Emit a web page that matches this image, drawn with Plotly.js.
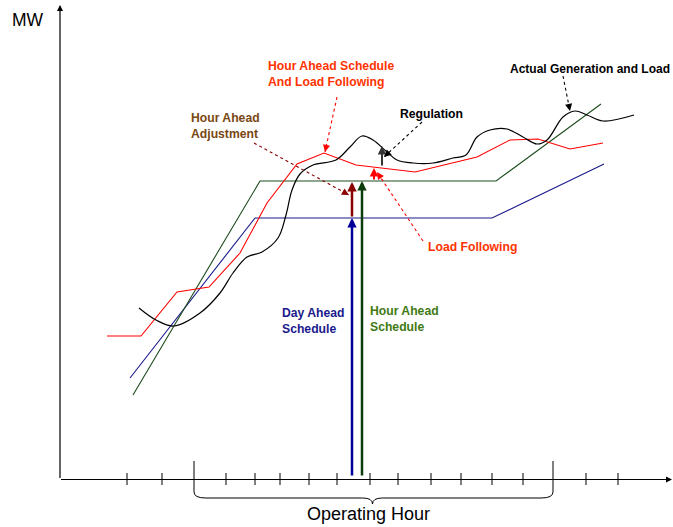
<!DOCTYPE html>
<html><head><meta charset="utf-8">
<script src="https://cdn.plot.ly/plotly-3.0.1.min.js"></script>
<style>html,body{margin:0;padding:0;background:#fff}#c{width:673px;height:527px}</style>
</head><body><div id="c"></div>
<script>
// Values (horizontal = time position, vertical = MW position, top = high)
const dayAheadX = [130, 255, 492, 604];
const dayAheadY = [378, 218, 218, 164];
const hourAheadX = [133, 260, 496, 601];
const hourAheadY = [395, 181, 181, 104];
const loadFollowX = [107, 141, 177, 209, 240, 267, 297, 324, 356, 415, 477, 510, 538, 570, 603];
const loadFollowY = [336, 336, 292, 287, 253, 203, 164, 153, 165, 172, 157, 140, 139, 149, 143];
const actualX = [139, 156, 174, 200, 220, 233, 247, 262, 278, 286, 292, 300, 313, 336, 350, 362, 373, 387, 397, 413, 433, 453, 466, 477, 490, 507, 523, 537, 547, 563, 575, 587, 603, 634];
const actualY = [308, 320, 326, 313, 293, 273, 257, 252, 238, 215, 190, 174, 165, 160, 147, 136, 140, 152, 160, 163, 163, 158, 155, 137, 130, 129, 137, 144, 140, 117, 111, 115, 121, 115];
const tickX = [127, 162, 226, 255, 280, 309, 337, 370, 398, 431, 461, 492, 523, 586, 618];
const hourBounds = [194, 553];
const arrowX = {dayAhead: 352, adjustment: 352, hourAhead: 362, loadFollowing: 374, regulation: 382};
const arrowBase = {dayAhead: 477, adjustment: 218, hourAhead: 477, loadFollowing: 181, regulation: 167};
const arrowTip = {dayAhead: 218, adjustment: 182, hourAhead: 181, loadFollowing: 168, regulation: 146};
const labels = {
  haLF: "Hour Ahead Schedule<br>And Load Following",
  adj: "Hour Ahead<br>Adjustment",
  reg: "Regulation",
  agl: "Actual Generation and Load",
  lf: "Load Following",
  da: "Day Ahead<br>Schedule",
  ha: "Hour Ahead<br>Schedule",
  xTitle: "Operating Hour",
  yTitle: "MW"
};
// dashed pointer lines [x0,y0,x1,y1]
const pointerHALF = [337, 97, 325, 152];
const pointerAdj = [254, 143, 349, 195];
const pointerReg = [422, 122, 384, 157];
const pointerLF = [423, 241, 377, 172];
const pointerAGL = [563, 76, 570, 111];

const F = "Liberation Sans, Arial, sans-serif";
const RED = "#ff0000", REDTXT = "#ff3300", NAVY = "#1a1a8c", DKGREEN = "#1e4d1e", BROWN = "#7a4712", DKRED = "#8b0000";

const traces = [];
traces.push({x: dayAheadX, y: dayAheadY, mode: "lines", line: {color: NAVY, width: 1.1}, hoverinfo: "skip"});
traces.push({x: hourAheadX, y: hourAheadY, mode: "lines", line: {color: DKGREEN, width: 1.1}, hoverinfo: "skip"});
traces.push({x: loadFollowX, y: loadFollowY, mode: "lines", line: {color: RED, width: 1.1}, hoverinfo: "skip"});
traces.push({x: actualX, y: actualY, mode: "lines", line: {color: "#000", width: 1.2, shape: "spline", smoothing: 1}, hoverinfo: "skip"});
// ticks
const tx = [], ty = [];
tickX.forEach(v => { tx.push(v, v, null); ty.push(473, 485, null); });
hourBounds.forEach(v => { tx.push(v, v, null); ty.push(461, 479, null); });
traces.push({x: tx, y: ty, mode: "lines", line: {color: "#000", width: 1}, hoverinfo: "skip"});
function dashed(p, color) {
  traces.push({x: [p[0], p[2]], y: [p[1], p[3]], mode: "lines", line: {color: color, width: 1.1, dash: "3px,3px"}, hoverinfo: "skip"});
}
dashed(pointerHALF, RED);
dashed(pointerAdj, DKRED);
dashed(pointerReg, "#000");
dashed(pointerLF, RED);
dashed(pointerAGL, "#000");

const ann = [];
function arrow(x, y, ax, ay, color, w, head, size) {
  ann.push({x: x, y: y, ax: ax, ay: ay, xref: "x", yref: "y", axref: "x", ayref: "y", text: "", showarrow: true,
    arrowhead: head, arrowsize: size, arrowwidth: w, arrowcolor: color});
}
// axes
arrow(60, 5, 60, 479.5, "#000", 1.2, 2, 1);
arrow(672, 479.5, 59.5, 479.5, "#000", 1.2, 2, 1);
// vertical arrows
arrow(arrowX.dayAhead, arrowTip.dayAhead, arrowX.dayAhead, arrowBase.dayAhead, "#000099", 2.5, 2, 0.75);
arrow(arrowX.adjustment, arrowTip.adjustment, arrowX.adjustment, arrowBase.adjustment, DKRED, 2.5, 2, 0.75);
arrow(arrowX.hourAhead, arrowTip.hourAhead, arrowX.hourAhead, arrowBase.hourAhead, "#0b3d0b", 2.5, 2, 0.75);
arrow(arrowX.loadFollowing, arrowTip.loadFollowing, arrowX.loadFollowing, arrowBase.loadFollowing, RED, 2, 2, 0.85);
arrow(arrowX.regulation, arrowTip.regulation, arrowX.regulation, arrowBase.regulation, "#333", 2, 2, 0.85);
// pointer heads
function head(p, color) {
  const dx = p[2] - p[0], dy = p[3] - p[1], L = Math.hypot(dx, dy);
  arrow(p[2], p[3], p[2] - dx / L * 7, p[3] - dy / L * 7, color, 1.1, 2, 1.3);
}
head(pointerHALF, RED); head(pointerAdj, DKRED); head(pointerReg, "#000"); head(pointerLF, RED); head(pointerAGL, "#000");

function txt(x, y, s, color, size, bold, anchor) {
  ann.push({x: x, y: y, xref: "x", yref: "y", text: bold ? "<b>" + s + "</b>" : s, showarrow: false,
    xanchor: anchor || "left", yanchor: "middle", align: "left", font: {family: F, size: size, color: color}});
}
txt(266, 74, labels.haLF, REDTXT, 12.2, true);
txt(189, 125.5, labels.adj, BROWN, 12.2, true);
txt(398, 114, labels.reg, "#000", 12.2, true);
txt(672, 69, labels.agl, "#000", 12, true, "right");
txt(426, 246.5, labels.lf, REDTXT, 12.2, true);
txt(280, 321, labels.da, NAVY, 12.2, true);
txt(368, 319, labels.ha, "#3f7a14", 12.2, true);
txt(368, 514, labels.xTitle, "#000", 18, false, "center");
txt(10, 20, labels.yTitle, "#000", 17.5, false);

// brace for operating hour
const b0 = hourBounds[0], b1 = hourBounds[1], bm = (b0 + b1) / 2 - 1;
const brace = `M${b0},479 L${b0},492 Q${b0},498 ${b0 + 12},498 L${bm - 10},498 Q${bm},498 ${bm},504 Q${bm},498 ${bm + 10},498 L${b1 - 12},498 Q${b1},498 ${b1},492 L${b1},479`;

const layout = {
  width: 673, height: 527, margin: {l: 0, r: 0, t: 0, b: 0},
  paper_bgcolor: "#fff", plot_bgcolor: "#fff", showlegend: false,
  xaxis: {range: [0, 673], visible: false, fixedrange: true},
  yaxis: {range: [527, 0], visible: false, fixedrange: true},
  annotations: ann,
  shapes: [{type: "path", path: brace, xref: "x", yref: "y", line: {color: "#000", width: 1}}]
};
Plotly.newPlot("c", traces, layout, {staticPlot: true, displayModeBar: false});
</script></body></html>
